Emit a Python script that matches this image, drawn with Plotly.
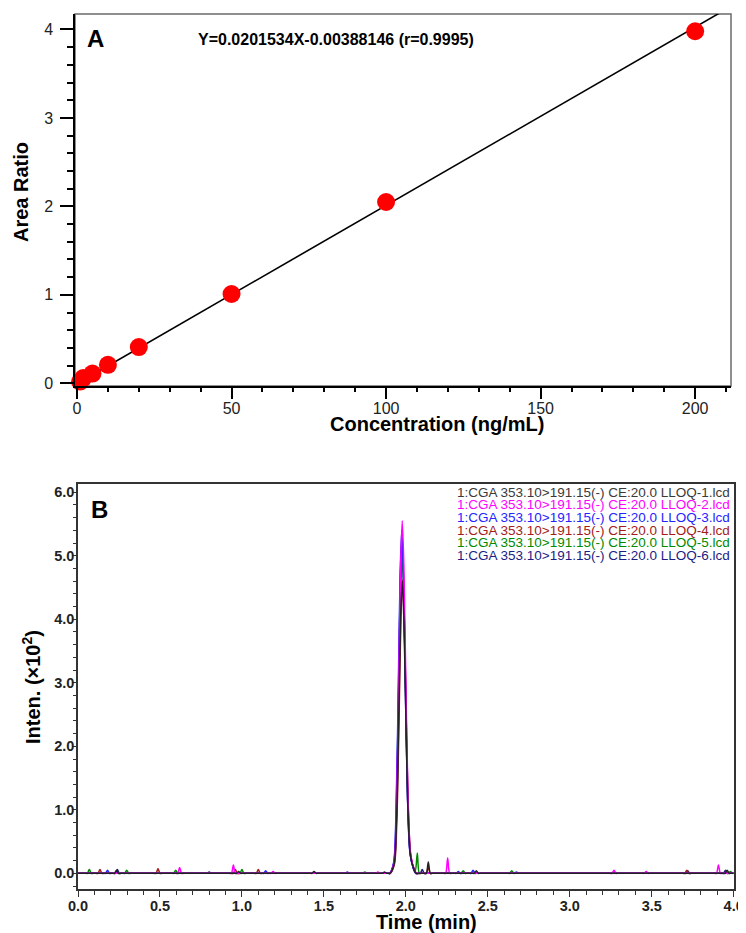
import plotly.graph_objects as go

# page body keeps its default 8px margin; the figure starts 8px in and runs to the window edge
PAD = 8
W, H = 746 - PAD, 933 - PAD
FONT = "Liberation Sans, Arial, sans-serif"

# panel A: calibration curve
conc = [1, 2, 5, 10, 20, 50, 100, 200]
area_ratio = [0.02, 0.06, 0.11, 0.21, 0.41, 1.01, 2.05, 3.98]
slope = 0.0201534
intercept = -0.00388146
fit_x = [0, 210]
eq_text = "Y=0.0201534X-0.00388146 (r=0.9995)"

# panel B: chromatograms (time in min, intensity x10^2)
t_1 = [0.0,
       0.21, 0.223, 0.235, 0.247, 0.26,
       0.955, 0.968, 0.98, 0.992, 1.005,
       1.415, 1.428, 1.44, 1.452, 1.465,
       1.845, 1.858, 1.87, 1.882,
       1.893, 1.903, 1.928, 1.943, 1.958, 1.968, 1.978, 1.988, 1.998, 2.013, 2.028, 2.048, 2.063, 2.08,
       2.112, 2.125, 2.137, 2.149, 2.162,
       2.405, 2.418, 2.43, 2.442, 2.455,
       3.935, 3.948, 3.96, 3.972, 3.985,
       4.0]
i_1 = [0,
       0, 0, 0.05, 0, 0,
       0, 0, 0.03, 0, 0,
       0, 0, 0.03, 0, 0,
       0, 0, 0.02, 0,
       0, 0, 0.14, 0.83, 2.65, 4.0, 4.6, 4.0, 2.76, 1.01, 0.28, 0.07, 0, 0,
       0, 0, 0.18, 0, 0,
       0, 0, 0.04, 0, 0,
       0, 0, 0.05, 0, 0,
       0]

t_2 = [0.0,
       0.595, 0.608, 0.62, 0.632, 0.645,
       0.923, 0.936, 0.948, 0.96, 0.973,
       1.165, 1.178, 1.19, 1.202, 1.215,
       1.805, 1.818, 1.83, 1.842, 1.855,
       1.893, 1.903, 1.928, 1.943, 1.958, 1.968, 1.978, 1.988, 1.998, 2.013, 2.028, 2.048, 2.063, 2.08,
       2.23, 2.243, 2.255, 2.267, 2.28,
       3.245, 3.258, 3.27, 3.282, 3.295,
       3.441, 3.454, 3.466, 3.478, 3.491,
       3.882, 3.895, 3.907, 3.919, 3.932,
       4.0]
i_2 = [0,
       0, 0, 0.09, 0, 0,
       0, 0, 0.13, 0, 0,
       0, 0, 0.03, 0, 0,
       0, 0, 0.02, 0, 0,
       0, 0, 0.17, 1.0, 3.19, 4.83, 5.55, 4.83, 3.33, 1.22, 0.33, 0.08, 0, 0,
       0, 0, 0.24, 0, 0,
       0, 0, 0.05, 0, 0,
       0, 0, 0.03, 0, 0,
       0, 0, 0.13, 0, 0,
       0]

t_3 = [0.0,
       0.155, 0.168, 0.18, 0.192, 0.205,
       1.12, 1.133, 1.145, 1.157, 1.17,
       1.618, 1.631, 1.643, 1.655, 1.668,
       1.89, 1.9, 1.925, 1.94, 1.955, 1.965, 1.975, 1.985, 1.995, 2.01, 2.025, 2.045, 2.06, 2.077,
       2.295, 2.308, 2.32, 2.332, 2.345,
       2.385, 2.398, 2.41, 2.422, 2.435,
       2.65, 2.663, 2.675, 2.687, 2.7,
       4.0]
i_3 = [0,
       0, 0, 0.05, 0, 0,
       0, 0, 0.04, 0, 0,
       0, 0, 0.02, 0, 0,
       0, 0, 0.16, 0.97, 3.1, 4.7, 5.4, 4.7, 3.24, 1.19, 0.32, 0.08, 0, 0,
       0, 0, 0.03, 0, 0,
       0, 0, 0.05, 0, 0,
       0, 0, 0.02, 0, 0,
       0]

t_4 = [0.0,
       0.109, 0.122, 0.134, 0.146, 0.159,
       0.463, 0.476, 0.488, 0.5, 0.513,
       0.935, 0.948, 0.96, 0.972, 0.985,
       1.075, 1.088, 1.1, 1.112, 1.125,
       1.895, 1.905, 1.93, 1.945, 1.96, 1.97, 1.98, 1.99, 2.0, 2.015, 2.03, 2.05, 2.065, 2.082,
       2.112, 2.125, 2.137, 2.149, 2.162,
       3.689, 3.702, 3.714, 3.726, 3.739,
       4.0]
i_4 = [0,
       0, 0, 0.06, 0, 0,
       0, 0, 0.07, 0, 0,
       0, 0, 0.06, 0, 0,
       0, 0, 0.06, 0, 0,
       0, 0, 0.14, 0.83, 2.66, 4.02, 4.62, 4.02, 2.77, 1.02, 0.28, 0.07, 0, 0,
       0, 0, 0.1, 0, 0,
       0, 0, 0.05, 0, 0,
       0]

t_5 = [0.0,
       0.044, 0.057, 0.069, 0.081, 0.094,
       0.272, 0.285, 0.297, 0.309, 0.322,
       0.571, 0.584, 0.596, 0.608, 0.621,
       0.975, 0.988, 1.0, 1.012, 1.025,
       1.725, 1.738, 1.75, 1.762, 1.775,
       1.893, 1.903, 1.928, 1.943, 1.958, 1.968, 1.978, 1.988, 1.998, 2.013, 2.028, 2.048, 2.058,
       2.07, 2.082, 2.095,
       2.325, 2.338, 2.35, 2.362, 2.375,
       2.621, 2.634, 2.646, 2.658, 2.671,
       3.955, 3.968, 3.98, 3.992, 4.0]
i_5 = [0,
       0, 0, 0.06, 0, 0,
       0, 0, 0.05, 0, 0,
       0, 0, 0.05, 0, 0,
       0, 0, 0.06, 0, 0,
       0, 0, 0.02, 0, 0,
       0, 0, 0.15, 0.9, 2.88, 4.35, 5.0, 4.35, 3.0, 1.1, 0.3, 0.08, 0.04,
       0.32, 0, 0,
       0, 0, 0.04, 0, 0,
       0, 0, 0.04, 0, 0,
       0, 0, 0.03, 0, 0]

t_6 = [0.0,
       0.215, 0.228, 0.24, 0.252, 0.265,
       0.775, 0.788, 0.8, 0.812, 0.825,
       1.415, 1.428, 1.44, 1.452, 1.465,
       1.891, 1.901, 1.926, 1.941, 1.956, 1.966, 1.976, 1.986, 1.996, 2.011, 2.026, 2.046, 2.061,
       2.075, 2.088, 2.1, 2.112, 2.125,
       3.695, 3.708, 3.72, 3.732, 3.745,
       3.925, 3.938, 3.95, 3.962, 3.975,
       4.0]
i_6 = [0,
       0, 0, 0.06, 0, 0,
       0, 0, 0.02, 0, 0,
       0, 0, 0.02, 0, 0,
       0, 0, 0.16, 0.95, 3.04, 4.59, 5.28, 4.59, 3.17, 1.16, 0.32, 0.08, 0,
       0, 0, 0.06, 0, 0,
       0, 0, 0.04, 0, 0,
       0, 0, 0.05, 0, 0,
       0]

trace_names = ["1:CGA 353.10>191.15(-) CE:20.0 LLOQ-%d.lcd" % k for k in range(1, 7)]
trace_colors = ["#222222", "#ff00ff", "#2424ff", "#a31c1c", "#008a00", "#1c1c84"]
legend_colors = ["#3a3a3a", "#ff00ff", "#2424ff", "#a31c1c", "#008a00", "#1c1c84"]
times = [t_1, t_2, t_3, t_4, t_5, t_6]
intens = [i_1, i_2, i_3, i_4, i_5, i_6]


# positions below are read in page pixels, converted to paper fractions here
def px(x):
    return (x - PAD) / W


def py(y):
    return 1 - (y - PAD) / H


fig = go.Figure()

# calibration line + points
fig.add_trace(go.Scatter(x=fit_x, y=[slope * v + intercept for v in fit_x], mode="lines",
                         line=dict(color="black", width=1.6), xaxis="x", yaxis="y",
                         hoverinfo="skip"))
fig.add_trace(go.Scatter(x=conc, y=area_ratio, mode="markers",
                         marker=dict(color="#ff0000", size=18, line=dict(width=0)),
                         xaxis="x", yaxis="y", cliponaxis=False))

# chromatograms, black drawn last so it sits on top
for k in [5, 4, 3, 2, 1, 0]:
    fig.add_trace(go.Scatter(x=times[k], y=intens[k], mode="lines", name=trace_names[k],
                             line=dict(color=trace_colors[k], width=1.5, shape="spline",
                                       smoothing=0.8),
                             xaxis="x2", yaxis="y2"))

tickA = dict(family=FONT, size=16, color="#222222")
tickB = dict(family=FONT, size=14.5, color="#222222", weight="bold")
fig.update_layout(
    template="none",
    width=W, height=H, margin=dict(l=0, r=0, t=0, b=0, autoexpand=False),
    paper_bgcolor="white", plot_bgcolor="white", showlegend=False,
    font=dict(family=FONT, color="black"),
    xaxis=dict(domain=[px(75), px(731)], range=[-0.65, 211.6], anchor="y", automargin=False,
               tickvals=[0, 50, 100, 150, 200], ticks="outside", ticklen=11, tickwidth=1.5,
               tickcolor="black", showline=True, linecolor="black", linewidth=1.5,
               showgrid=False, zeroline=False, tickfont=tickA, ticklabelstandoff=-4,
               minor=dict(dtick=10, ticks="outside", ticklen=4, tickwidth=1.5, tickcolor="black",
                          showgrid=False)),
    yaxis=dict(domain=[py(386), py(14)], range=[-0.03, 4.175], anchor="x", automargin=False,
               tickvals=[0, 1, 2, 3, 4], ticks="outside", ticklen=13, tickwidth=1.5,
               tickcolor="black", showline=True, linecolor="black", linewidth=1.5,
               showgrid=False, zeroline=False, tickfont=tickA, ticklabelstandoff=4,
               minor=dict(dtick=0.2, ticks="outside", ticklen=6, tickwidth=1.5, tickcolor="black",
                          showgrid=False)),
    xaxis2=dict(domain=[px(78), px(733.7)], range=[0, 4.0], anchor="y2", automargin=False,
                tickvals=[0, 0.5, 1, 1.5, 2, 2.5, 3, 3.5, 4], tickformat=".1f",
                ticks="outside", ticklen=6, tickwidth=1.2, tickcolor="#333333",
                showline=True, mirror=True, linecolor="#333333", linewidth=1.5,
                showgrid=False, zeroline=False, ticklabelstandoff=-3, tickfont=tickB,
                minor=dict(dtick=0.1, ticks="outside", ticklen=4, tickwidth=1.2,
                           tickcolor="#333333", showgrid=False)),
    yaxis2=dict(domain=[py(889), py(484)], range=[-0.247, 6.13], anchor="x2", automargin=False,
                tickvals=[0, 1, 2, 3, 4, 5, 6], tickformat=".1f",
                ticks="outside", ticklen=4, tickwidth=1.2, tickcolor="#333333",
                showline=True, mirror=True, linecolor="#333333", linewidth=1.5,
                showgrid=False, zeroline=False, ticklabelstandoff=-5, tickfont=tickB,
                minor=dict(dtick=0.2, ticks="outside", ticklen=3, tickwidth=1.2,
                           tickcolor="#333333", showgrid=False)),
)

# grey frame on top/right of panel A
fig.add_shape(type="rect", xref="x domain", yref="y domain", x0=0, x1=1, y0=0, y1=1,
              line=dict(color="#6a6a6a", width=1.5), layer="below")

ann = [
    dict(text="<b>A</b>", x=px(95), y=py(38), font=dict(size=24)),
    dict(text="<b>%s</b>" % eq_text, x=px(336), y=py(40), font=dict(size=16)),
    dict(text="<b>Area Ratio</b>", x=px(21), y=py(192), textangle=-90, font=dict(size=20)),
    dict(text="<b>Concentration (ng/mL)</b>", x=px(437), y=py(424), font=dict(size=20)),
    dict(text="<b>B</b>", x=px(99.5), y=py(509), font=dict(size=24)),
    dict(text="<b>Inten. (×10<sup>2</sup>)</b>", x=px(31), y=py(687), textangle=-90,
         font=dict(size=20)),
    dict(text="<b>Time (min)</b>", x=px(426.5), y=py(922), font=dict(size=20)),
]
for a in ann:
    a.update(xref="paper", yref="paper", showarrow=False, xanchor="center", yanchor="middle")
    a["font"].update(family=FONT, color="black")
    fig.add_annotation(**a)

for k, name in enumerate(trace_names):
    fig.add_annotation(text=name, xref="paper", yref="paper", x=px(732), y=py(492.5 + 12.5 * k),
                       xanchor="right", yanchor="middle", showarrow=False,
                       font=dict(family=FONT, size=13.5, color=legend_colors[k]))

fig.write_html("out.html")
